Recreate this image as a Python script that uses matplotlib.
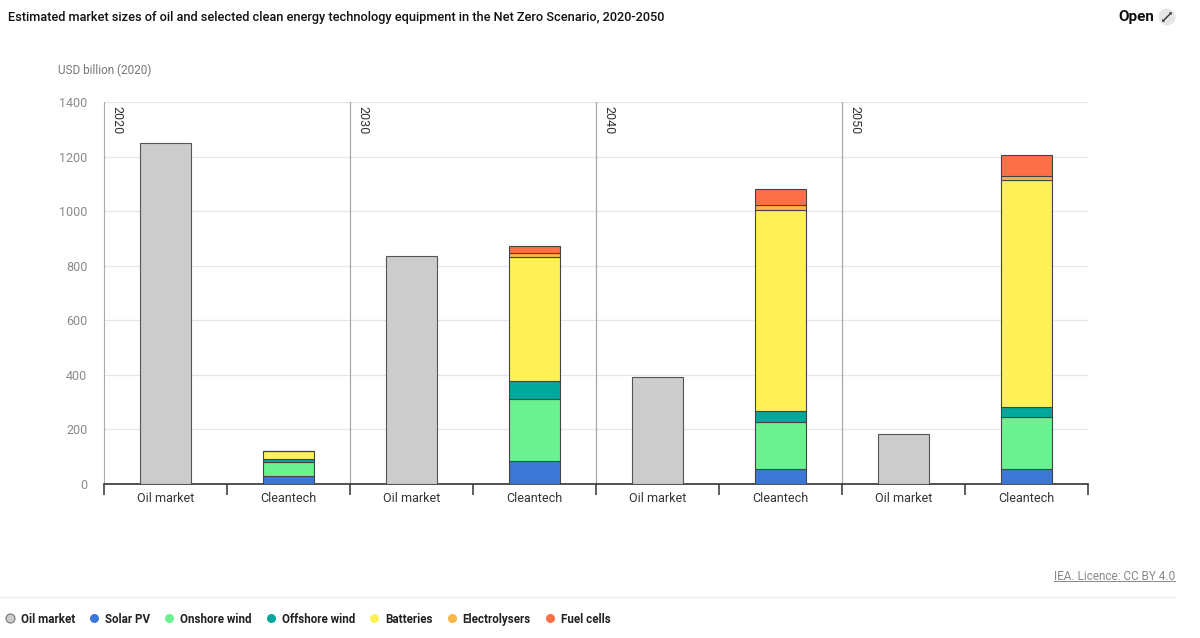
import matplotlib
matplotlib.use("Agg")
import matplotlib.pyplot as plt
from matplotlib.lines import Line2D
from matplotlib.patches import Circle, Polygon
import numpy as np

plt.rcParams['font.family'] = ['Roboto', 'DejaVu Sans']

years = ["2020", "2030", "2040", "2050"]
categories = ["Oil market", "Cleantech"]
oil_market = [1250, 835, 392, 183]
solar_pv = [30, 84, 55, 55]
onshore_wind = [49, 226, 171, 192]
offshore_wind = [13, 68, 40, 34]
batteries = [28, 454, 739, 834]
electrolysers = [1, 15, 18, 12]
fuel_cells = [1, 26, 58, 77]
yticks = [0, 200, 400, 600, 800, 1000, 1200, 1400]

series = [
    ("Solar PV", solar_pv, "#3c78d8"),
    ("Onshore wind", onshore_wind, "#6af290"),
    ("Offshore wind", offshore_wind, "#00a99c"),
    ("Batteries", batteries, "#fdf157"),
    ("Electrolysers", electrolysers, "#fdb447"),
    ("Fuel cells", fuel_cells, "#fd6f47"),
]
oil_color = "#cccccc"

fig = plt.figure(figsize=(12, 6.38), dpi=100)
ax = fig.add_axes([104/1200, 1-484/638, (1088-104)/1200, (484-102)/638])

width = 0.42
n = len(years)
oil_x = np.arange(n) * 2
clean_x = np.arange(n) * 2 + 1

ax.bar(oil_x, oil_market, width=width, color=oil_color, edgecolor="#555555", linewidth=0.8, zorder=3)
bottom = np.zeros(n)
for name, vals, col in series:
    ax.bar(clean_x, vals, width=width, bottom=bottom, color=col, edgecolor="#444444", linewidth=0.8, zorder=3)
    bottom += np.array(vals)

ax.set_xlim(-0.5, 2*n - 0.5)
ax.set_ylim(0, 1400)
ax.set_yticks(yticks)
ax.set_yticklabels([str(v) for v in yticks], color="#8a8a8a", fontsize=9)
ax.tick_params(axis='y', length=0, pad=12)
ax.grid(axis='y', color="#e6e6e6", linewidth=0.9, zorder=0)

xt = list(oil_x) + list(clean_x)
xl = [categories[0]] * n + [categories[1]] * n
ax.set_xticks(xt)
ax.set_xticklabels(xl, fontsize=9, color="#333333")
ax.tick_params(axis='x', length=0, pad=6)
ax.set_xticks(np.arange(-0.5, 2*n, 1), minor=True)
ax.tick_params(axis='x', which='minor', length=8, width=1.1, color="#333333")

for s in ["top", "right"]:
    ax.spines[s].set_visible(False)
ax.spines["left"].set_color("#aaaaaa")
ax.spines["left"].set_linewidth(0.8)
ax.spines["bottom"].set_color("#333333")
ax.spines["bottom"].set_linewidth(1.2)

for i, y in enumerate(years):
    left = 2*i - 0.5
    if i > 0:
        ax.axvline(left, color="#aaaaaa", linewidth=0.9, zorder=2)
    ax.text(left + 0.055, 1385, y, rotation=-90, ha='left', va='top', fontsize=9, color="#333333")

fig.text(8/1200, 1-17/638, "Estimated market sizes of oil and selected clean energy technology equipment in the Net Zero Scenario, 2020-2050",
         fontsize=9.2, fontweight='medium', color="#111111", va='center', ha='left')
fig.text(1118/1200, 1-17/638, "Open", fontsize=11, fontweight='bold', color="#111111", va='center', ha='left')

# expand icon (drawn in inches so the circle stays round)
tr = fig.dpi_scale_trans
cx, cy = 11.67, (638 - 17) / 100
fig.add_artist(Circle((cx, cy), 0.085, transform=tr, facecolor="#e6e6e6", edgecolor='none'))
d = 0.04
fig.add_artist(Line2D([cx - d, cx + d], [cy - d, cy + d], transform=tr, color="#333333", linewidth=1.0))
h = 0.028
fig.add_artist(Polygon([(cx + d + 0.006, cy + d + 0.006), (cx + d + 0.006 - h, cy + d + 0.006), (cx + d + 0.006, cy + d + 0.006 - h)],
                       closed=True, transform=tr, facecolor="#333333", edgecolor='none'))
fig.add_artist(Polygon([(cx - d - 0.006, cy - d - 0.006), (cx - d - 0.006 + h, cy - d - 0.006), (cx - d - 0.006, cy - d - 0.006 + h)],
                       closed=True, transform=tr, facecolor="#333333", edgecolor='none'))

fig.text(58/1200, 1-70/638, "USD billion (2020)", fontsize=8.5, color="#777777", va='center', ha='left')
t = fig.text(1175/1200, 1-576/638, "IEA. Licence: CC BY 4.0", fontsize=8.5, color="#888888", va='center', ha='right')

renderer = fig.canvas.get_renderer()
bb = t.get_window_extent(renderer=renderer)
fig.add_artist(Line2D([bb.x0, bb.x1], [bb.y0 + 1.5, bb.y0 + 1.5], transform=None, color="#888888", linewidth=0.7))

fig.add_artist(Line2D([0, 1175/1200], [1-597/638, 1-597/638], transform=fig.transFigure, color="#ececec", linewidth=1))

# manual legend row
legend_items = [("Oil market", oil_color, "#777777")] + [(nm, c, 'none') for nm, _, c in series]
ly = 638 - 618
lx = 10
for name, col, ec in legend_items:
    fig.add_artist(Line2D([lx], [ly], transform=None, marker='o', linestyle='none', markersize=6.5,
                          markerfacecolor=col, markeredgecolor=ec, markeredgewidth=0.8))
    tx = fig.text((lx + 11) / 1200, ly / 638, name, fontsize=8.4, fontweight='semibold', color="#222222",
                  ha='left', va='center_baseline')
    tb = tx.get_window_extent(renderer=renderer)
    lx = tb.x1 + 19

fig.savefig("out.png", dpi=100)
